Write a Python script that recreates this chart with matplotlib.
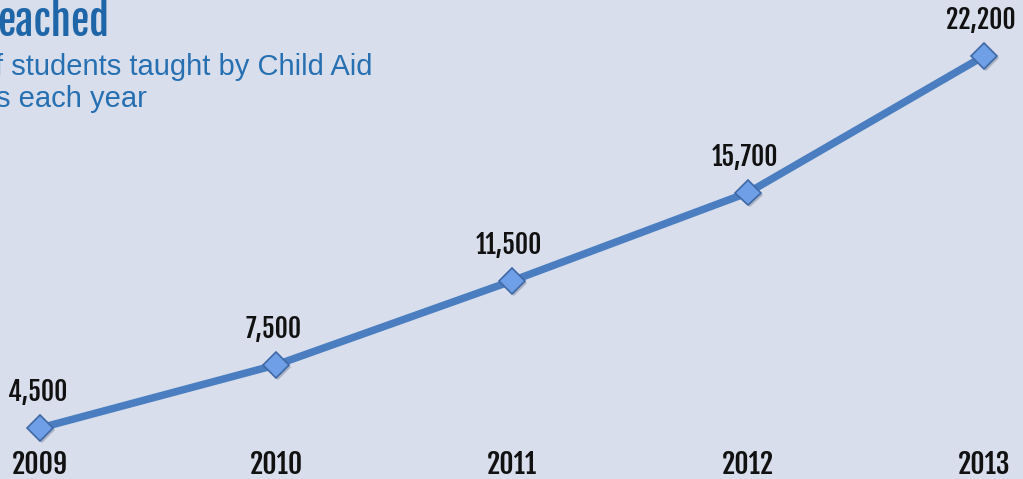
import matplotlib
matplotlib.use("Agg")
import matplotlib.pyplot as plt
from matplotlib import font_manager as fm
import matplotlib.patheffects as pe

years = [2009, 2010, 2011, 2012, 2013]
students = [4500, 7500, 11500, 15700, 22200]
value_labels = ["4,500", "7,500", "11,500", "15,700", "22,200"]
year_labels = ["2009", "2010", "2011", "2012", "2013"]
title_text = "eached"
subtitle_lines = ["f students taught by Child Aid", "s each year"]

names = {f.name for f in fm.fontManager.ttflist}
cond = "DejaVu Sans"
for cand in ["Fjalla One", "Barlow Condensed", "Oswald"]:
    if cand in names:
        cond = cand
        break

bg = "#d8deeb"
fig = plt.figure(figsize=(10.23, 4.79), dpi=100, facecolor=bg)
ax = fig.add_axes([0, 0, 1, 1])
ax.set_facecolor(bg)
ax.set_xlim(2008.8305, 2013.165)
ax.set_ylim(2073, 24865)
ax.axis("off")

ax.plot(years, students, color="#4a7ec0", lw=5.4, solid_capstyle="round", zorder=2)
ax.plot(years, students, ls="none", marker="D", ms=13, mfc="#6f9fe6", mec="#3f68a6", mew=1.2,
        zorder=3, path_effects=[pe.SimplePatchShadow(offset=(1.5, -1.5), alpha=0.25), pe.Normal()])

for x, y, t in zip(years, students, value_labels):
    ax.annotate(t, (x, y), xytext=(-2, 26), textcoords="offset points", ha="center", va="center",
                fontsize=18.5, fontweight="bold", family=cond, color="#111111")

for x, t in zip(years, year_labels):
    ax.text(x, 0.03, t, transform=ax.get_xaxis_transform(), ha="center", va="center",
            fontsize=20, fontweight="bold", family=cond, color="#111111")

fig.text(-0.003, 0.955, title_text, ha="left", va="center", fontsize=29.5, fontweight="bold",
         family=cond, color="#1f66a8")
fig.text(-0.005, 0.861, subtitle_lines[0], ha="left", va="center", fontsize=21,
         family="Liberation Sans", color="#2670b2")
fig.text(-0.004, 0.793, subtitle_lines[1], ha="left", va="center", fontsize=21,
         family="Liberation Sans", color="#2670b2")

fig.savefig("out.png", dpi=100, facecolor=bg)
